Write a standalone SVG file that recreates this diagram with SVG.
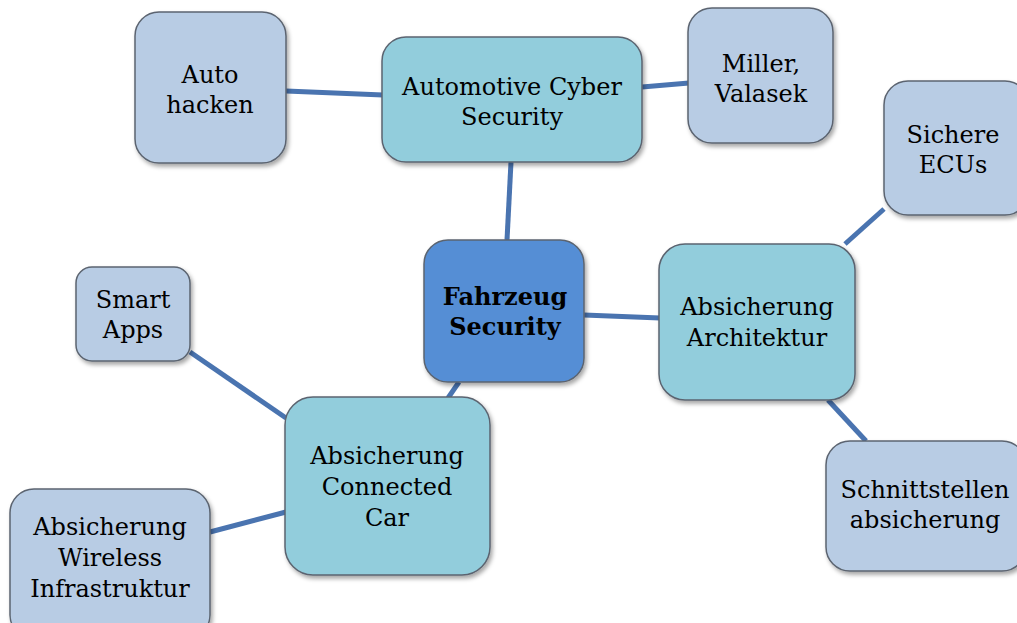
<svg xmlns="http://www.w3.org/2000/svg" width="1017" height="623" viewBox="0 0 1017 623">
  <defs>
    <filter id="shadow" x="-10%" y="-10%" width="125%" height="130%">
      <feDropShadow dx="2" dy="3" stdDeviation="2" flood-color="#000" flood-opacity="0.35"/>
    </filter>
  </defs>
  <style>
    .box { stroke: #5b6470; stroke-width: 1.5; filter: url(#shadow); }
    .leaf { fill: #b8cce4; }
    .mid { fill: #92cddc; }
    .core { fill: #558ed5; }
    .lbl { font-family: "DejaVu Serif", "Liberation Serif", serif; font-size: 24px; fill: #000; text-anchor: middle; }
    .bold { font-weight: bold; font-size: 24px; }
    .link { stroke: #4a74b0; stroke-width: 5; fill: none; }
  </style>
  <rect width="1017" height="623" fill="#fff"/>

  <!-- connectors -->
  <g id="connectors">
    <line class="link" x1="286" y1="91" x2="383" y2="95"/>
    <line class="link" x1="642" y1="87" x2="689" y2="83"/>
    <line class="link" x1="511" y1="162" x2="507" y2="240"/>
    <line class="link" x1="584" y1="315" x2="660" y2="318"/>
    <line class="link" x1="845" y1="244" x2="884" y2="209"/>
    <line class="link" x1="828" y1="400" x2="866" y2="441"/>
    <line class="link" x1="459" y1="382" x2="448" y2="398"/>
    <line class="link" x1="190" y1="352" x2="286" y2="418"/>
    <line class="link" x1="210" y1="532" x2="286" y2="512"/>
  </g>

  <g id="auto-hacken">
    <rect class="box leaf" x="135" y="12" width="151" height="151" rx="24"/>
    <text class="lbl" x="210" y="83">Auto</text>
    <text class="lbl" x="210" y="113">hacken</text>
  </g>

  <g id="automotive-cyber-security">
    <rect class="box mid" x="382" y="37" width="260" height="125" rx="24"/>
    <text class="lbl" x="512" y="95">Automotive Cyber</text>
    <text class="lbl" x="512" y="125">Security</text>
  </g>

  <g id="miller-valasek">
    <rect class="box leaf" x="688" y="8" width="145" height="135" rx="24"/>
    <text class="lbl" x="761" y="72">Miller,</text>
    <text class="lbl" x="761" y="102">Valasek</text>
  </g>

  <g id="sichere-ecus">
    <rect class="box leaf" x="884" y="81" width="145" height="134" rx="24"/>
    <text class="lbl" x="953" y="143">Sichere</text>
    <text class="lbl" x="953" y="173">ECUs</text>
  </g>

  <g id="fahrzeug-security">
    <rect class="box core" x="424" y="240" width="160" height="142" rx="24"/>
    <text class="lbl bold" x="505" y="305">Fahrzeug</text>
    <text class="lbl bold" x="505" y="335">Security</text>
  </g>

  <g id="absicherung-architektur">
    <rect class="box mid" x="659" y="244" width="196" height="156" rx="26"/>
    <text class="lbl" x="757" y="315">Absicherung</text>
    <text class="lbl" x="757" y="346">Architektur</text>
  </g>

  <g id="schnittstellen-absicherung">
    <rect class="box leaf" x="826" y="441" width="200" height="130" rx="24"/>
    <text class="lbl" x="925" y="498">Schnittstellen</text>
    <text class="lbl" x="925" y="528">absicherung</text>
  </g>

  <g id="smart-apps">
    <rect class="box leaf" x="76" y="267" width="114" height="94" rx="16"/>
    <text class="lbl" x="133" y="308">Smart</text>
    <text class="lbl" x="133" y="338">Apps</text>
  </g>

  <g id="absicherung-connected-car">
    <rect class="box mid" x="285" y="397" width="205" height="178" rx="28"/>
    <text class="lbl" x="387" y="464">Absicherung</text>
    <text class="lbl" x="387" y="495">Connected</text>
    <text class="lbl" x="387" y="526">Car</text>
  </g>

  <g id="absicherung-wireless-infrastruktur">
    <rect class="box leaf" x="10" y="489" width="200" height="150" rx="24"/>
    <text class="lbl" x="110" y="535">Absicherung</text>
    <text class="lbl" x="110" y="566">Wireless</text>
    <text class="lbl" x="110" y="597">Infrastruktur</text>
  </g>
</svg>
